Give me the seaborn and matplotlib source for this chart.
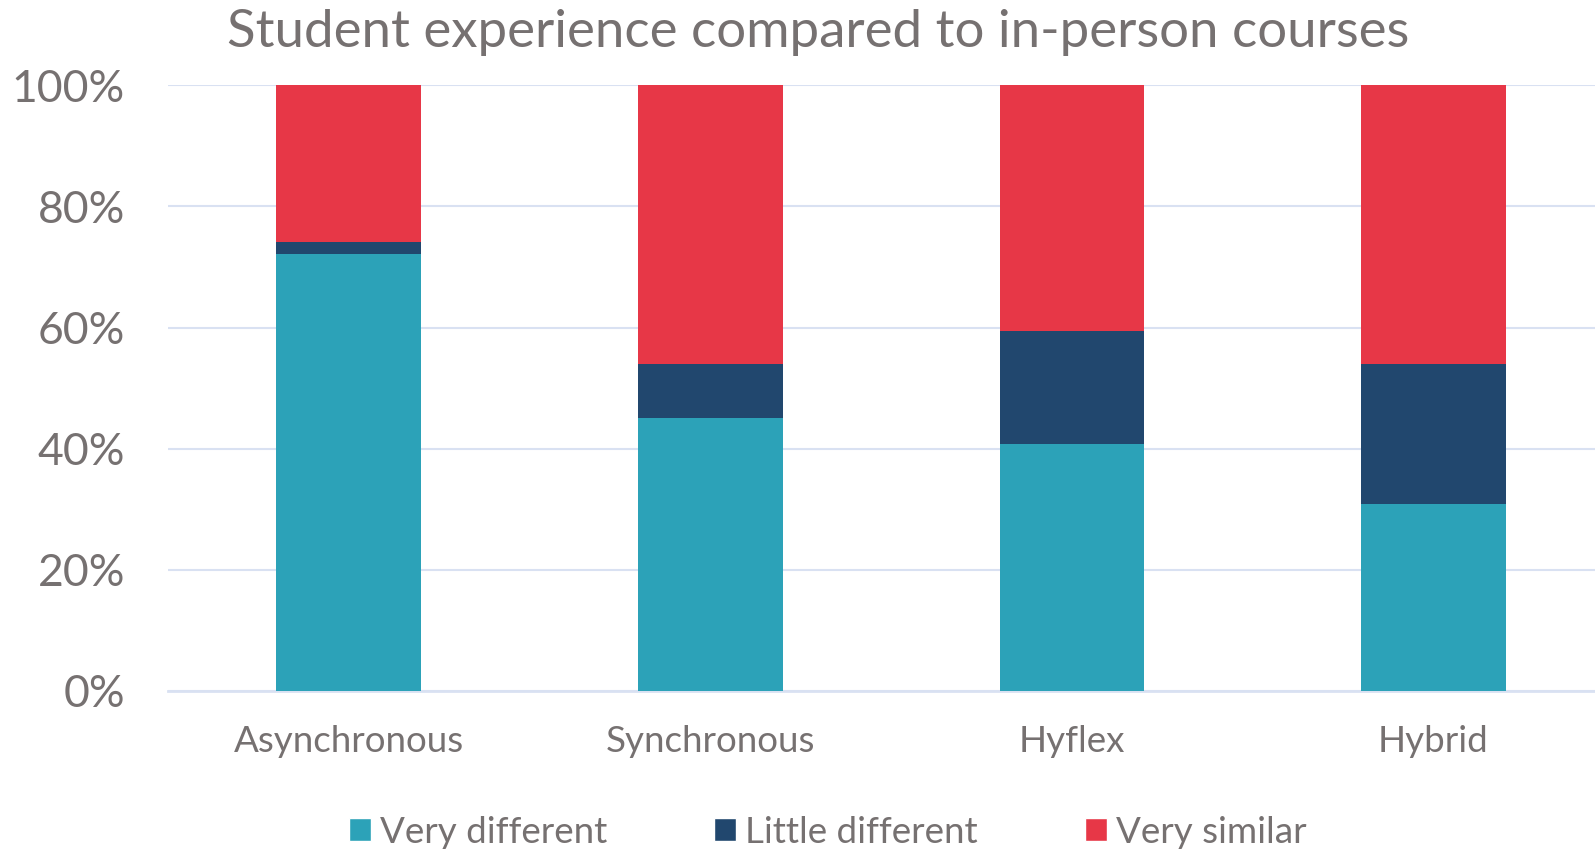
import matplotlib
matplotlib.use("Agg")
import matplotlib.pyplot as plt
import seaborn as sns
import pandas as pd
from matplotlib.patches import Patch
from matplotlib.ticker import PercentFormatter

# %%
categories = ["Asynchronous", "Synchronous", "Hyflex", "Hybrid"]
very_different = [72.1, 45.0, 40.7, 30.8]
little_different = [2.0, 8.9, 18.8, 23.1]
very_similar = [25.9, 46.1, 40.5, 46.1]
series_names = ["Very different", "Little different", "Very similar"]
colors = ["#2CA2B8", "#21476E", "#E73747"]
text_color = "#767171"
grid_color = "#D9E1F2"

df = pd.DataFrame({"course": categories,
                   "vd": very_different,
                   "ld": little_different,
                   "vs": very_similar})
# cumulative heights so the layers can be drawn back to front
df["top_ld"] = df["vd"] + df["ld"]
df["top_vs"] = df["top_ld"] + df["vs"]

sns.set_style("white")
plt.rcParams["font.family"] = ["Lato", "DejaVu Sans"]

fig = plt.figure(figsize=(15.95, 8.51), dpi=100)
ax = fig.add_axes([0.1053, 0.1883, 0.9067, 0.7114])

for col, c in zip(["top_vs", "top_ld", "vd"], colors[::-1]):
    sns.barplot(data=df, x="course", y=col, color=c, width=0.4,
                linewidth=0, saturation=1, ax=ax, zorder=3)

ax.set_ylim(0, 100)
ax.set_xlim(-0.5, 3.5)
ax.set_yticks(range(0, 101, 20))
ax.yaxis.set_major_formatter(PercentFormatter(decimals=0))
ax.grid(axis="y", color=grid_color, linewidth=1.5, zorder=0)
ax.set_axisbelow(True)
for s in ["top", "right", "left"]:
    ax.spines[s].set_visible(False)
ax.spines["bottom"].set_color(grid_color)
ax.spines["bottom"].set_linewidth(2)
ax.set_xlabel("")
ax.set_ylabel("")
ax.tick_params(axis="y", length=0, pad=31, labelsize=32, labelcolor=text_color)
ax.tick_params(axis="x", length=0, pad=25, labelsize=26.5, labelcolor=text_color)

fig.suptitle("Student experience compared to in-person courses",
             x=0.513, y=0.989, fontsize=38, color=text_color)

handles = [Patch(facecolor=c, label=n) for c, n in zip(colors, series_names)]
fig.legend(handles=handles, loc="center", bbox_to_anchor=(0.519, 0.022), ncol=3,
           frameon=False, fontsize=26.5, labelcolor=text_color,
           handlelength=0.6, handleheight=0.6, handletextpad=0.25,
           columnspacing=2.9)

fig.savefig("out.png", dpi=100)
